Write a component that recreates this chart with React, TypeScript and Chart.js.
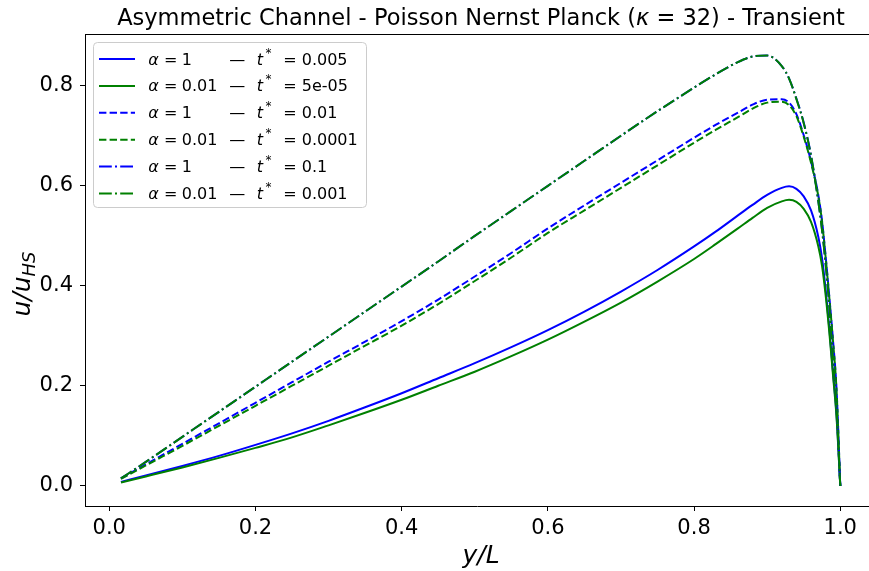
import React, { useEffect, useRef } from "react";
import { Chart, registerables } from "chart.js";

Chart.register(...registerables);

// y/L positions shared by all curves
const yOverL = [0.016, 0.05, 0.1, 0.15, 0.2, 0.25, 0.3, 0.35, 0.4, 0.45, 0.5, 0.55, 0.6, 0.65, 0.7, 0.75, 0.8, 0.83, 0.86, 0.88, 0.9, 0.92, 0.93, 0.94, 0.95, 0.96, 0.97, 0.975, 0.98, 0.985, 0.99, 0.995, 1.0];

// alpha = 1, t* = 0.005 (solid blue)
const a1_t0005 = [0.008, 0.021, 0.040, 0.060, 0.082, 0.105, 0.130, 0.157, 0.185, 0.215, 0.245, 0.277, 0.311, 0.348, 0.388, 0.431, 0.478, 0.508, 0.540, 0.561, 0.581, 0.595, 0.598, 0.593, 0.578, 0.550, 0.497, 0.455, 0.392, 0.315, 0.228, 0.14, 0.0];
// alpha = 0.01, t* = 5e-05 (solid green)
const a001_t5e5 = [0.007, 0.019, 0.037, 0.056, 0.076, 0.097, 0.121, 0.146, 0.172, 0.200, 0.228, 0.259, 0.292, 0.328, 0.366, 0.408, 0.453, 0.483, 0.514, 0.535, 0.555, 0.568, 0.571, 0.567, 0.553, 0.527, 0.478, 0.440, 0.381, 0.307, 0.222, 0.135, 0.0];
// alpha = 1, t* = 0.01 (dashed blue)
const a1_t001 = [0.015, 0.043, 0.084, 0.125, 0.166, 0.207, 0.248, 0.288, 0.329, 0.372, 0.418, 0.465, 0.514, 0.560, 0.605, 0.650, 0.695, 0.721, 0.745, 0.761, 0.771, 0.772, 0.765, 0.742, 0.700, 0.648, 0.580, 0.530, 0.458, 0.378, 0.292, 0.19, 0.0];
// alpha = 0.01, t* = 0.0001 (dashed green)
const a001_t00001 = [0.014, 0.041, 0.080, 0.120, 0.160, 0.200, 0.240, 0.280, 0.320, 0.363, 0.409, 0.456, 0.505, 0.550, 0.595, 0.640, 0.685, 0.711, 0.736, 0.753, 0.765, 0.767, 0.760, 0.738, 0.697, 0.645, 0.578, 0.528, 0.456, 0.376, 0.290, 0.188, 0.0];
// alpha = 1, t* = 0.1 (dash-dot blue)
const a1_t01 = [0.015, 0.048, 0.098, 0.148, 0.198, 0.248, 0.298, 0.348, 0.398, 0.448, 0.499, 0.549, 0.599, 0.649, 0.699, 0.748, 0.795, 0.822, 0.846, 0.857, 0.859, 0.838, 0.813, 0.773, 0.725, 0.660, 0.568, 0.512, 0.443, 0.360, 0.255, 0.155, 0.0];
// alpha = 0.01, t* = 0.001 (dash-dot green)
const a001_t0001 = [0.015, 0.048, 0.098, 0.148, 0.198, 0.248, 0.298, 0.348, 0.398, 0.448, 0.499, 0.549, 0.599, 0.649, 0.699, 0.748, 0.795, 0.822, 0.846, 0.857, 0.859, 0.838, 0.813, 0.772, 0.724, 0.659, 0.567, 0.511, 0.442, 0.359, 0.254, 0.154, 0.0];

const alphaLabels = ["1", "0.01", "1", "0.01", "1", "0.01"];
const tLabels = ["0.005", "5e-05", "0.01", "0.0001", "0.1", "0.001"];
const seriesValues = [a1_t0005, a001_t5e5, a1_t001, a001_t00001, a1_t01, a001_t0001];
const seriesColors = ["#0000ff", "#008000", "#0000ff", "#008000", "#0000ff", "#008000"];
const seriesDashes = [[], [], [7.4, 3.2], [7.4, 3.2], [12.8, 3.2, 2, 3.2], [12.8, 3.2, 2, 3.2]];

const xTicks = [0, 0.2, 0.4, 0.6, 0.8, 1.0];
const yTicks = [0, 0.2, 0.4, 0.6, 0.8];

const FONT = "'DejaVu Sans', sans-serif";

type Run = { text: string; font: string; dy?: number };

function runsWidth(ctx: CanvasRenderingContext2D, runs: Run[]) {
  let w = 0;
  for (const r of runs) {
    ctx.font = r.font;
    w += ctx.measureText(r.text).width;
  }
  return w;
}

function drawRuns(ctx: CanvasRenderingContext2D, runs: Run[], x: number, y: number) {
  let cx = x;
  for (const r of runs) {
    ctx.font = r.font;
    ctx.fillText(r.text, cx, y + (r.dy || 0));
    cx += ctx.measureText(r.text).width;
  }
}

const overlay = {
  id: "overlay",
  afterDraw(chart: any) {
    const ctx: CanvasRenderingContext2D = chart.ctx;
    const a = chart.chartArea;
    ctx.save();
    // top spine
    ctx.strokeStyle = "#000";
    ctx.lineWidth = 1;
    ctx.beginPath();
    ctx.moveTo(a.left, Math.round(a.top) + 0.5);
    ctx.lineTo(chart.width, Math.round(a.top) + 0.5);
    ctx.stroke();

    ctx.fillStyle = "#000";
    ctx.textBaseline = "alphabetic";
    ctx.textAlign = "left";

    // title
    const tf = `22.5px ${FONT}`;
    const titleRuns: Run[] = [
      { text: "Asymmetric Channel - Poisson Nernst Planck (", font: tf },
      { text: "κ", font: `italic ${tf}` },
      { text: " = 32) - Transient", font: tf },
    ];
    const tw = runsWidth(ctx, titleRuns);
    drawRuns(ctx, titleRuns, 481 - tw / 2, 25);

    // x label
    const xf = `italic 25px ${FONT}`;
    const xr: Run[] = [{ text: "y/L", font: xf }];
    const xw = runsWidth(ctx, xr);
    drawRuns(ctx, xr, 481 - xw / 2, 563);

    // y label
    const yr: Run[] = [
      { text: "u/u", font: `italic 25px ${FONT}` },
      { text: "HS", font: `italic 18px ${FONT}`, dy: 5 },
    ];
    const yw = runsWidth(ctx, yr);
    ctx.save();
    ctx.translate(30, 284 + yw / 2);
    ctx.rotate(-Math.PI / 2);
    drawRuns(ctx, yr, 0, 0);
    ctx.restore();

    // legend
    ctx.beginPath();
    (ctx as any).roundRect(93.5, 42.5, 273, 165, 4);
    ctx.fillStyle = "rgba(255,255,255,0.8)";
    ctx.fill();
    ctx.strokeStyle = "#cccccc";
    ctx.lineWidth = 1;
    ctx.stroke();

    const lf = `16px ${FONT}`;
    const lfi = `italic 16px ${FONT}`;
    for (let i = 0; i < 6; i++) {
      const cy = 59 + i * 26.9;
      ctx.save();
      ctx.strokeStyle = seriesColors[i];
      ctx.lineWidth = 2;
      ctx.setLineDash(seriesDashes[i]);
      ctx.beginPath();
      ctx.moveTo(99, cy);
      ctx.lineTo(135, cy);
      ctx.stroke();
      ctx.restore();
      const by = cy + 5.5;
      ctx.fillStyle = "#000";
      ctx.font = lfi;
      ctx.fillText("α", 148.3, by);
      ctx.font = lf;
      ctx.fillText("=", 164, by);
      ctx.fillText(alphaLabels[i], 181.7, by);
      ctx.fillText("—", 229.3, by);
      ctx.font = lfi;
      ctx.fillText("t", 256.7, by);
      ctx.font = `12px ${FONT}`;
      ctx.fillText("*", 265.5, by - 8);
      ctx.font = lf;
      ctx.fillText("=", 283.3, by);
      ctx.fillText(tLabels[i], 301.7, by);
    }
    ctx.restore();
  },
};

export default function App() {
  const ref = useRef<HTMLCanvasElement | null>(null);
  useEffect(() => {
    if (!ref.current) return;
    const datasets = seriesValues.map((vals, i) => ({
      label: `α = ${alphaLabels[i]} — t* = ${tLabels[i]}`,
      data: yOverL.map((x, j) => ({ x, y: vals[j] })),
      borderColor: seriesColors[i],
      backgroundColor: seriesColors[i],
      borderWidth: 2,
      borderDash: seriesDashes[i],
      pointRadius: 0,
      fill: false,
      cubicInterpolationMode: "monotone" as const,
      order: 5 - i,
    }));
    const tickFont = { family: FONT, size: 21 };
    const chart = new Chart(ref.current, {
      type: "line",
      data: { datasets },
      options: {
        animation: false,
        responsive: false,
        maintainAspectRatio: false,
        layout: { padding: { top: 34, right: 0, left: 0, bottom: 0 } },
        plugins: { legend: { display: false }, tooltip: { enabled: false }, title: { display: false } },
        scales: {
          x: {
            type: "linear",
            min: -0.0332,
            max: 1.0393,
            afterBuildTicks: (s: any) => { s.ticks = xTicks.map((v) => ({ value: v })); },
            afterFit: (s: any) => { s.height = 65; },
            ticks: {
              font: tickFont,
              color: "#000",
              padding: 5,
              maxRotation: 0,
              autoSkip: false,
              callback: (v: any) => Number(v).toFixed(1),
            },
            grid: { drawOnChartArea: false, drawTicks: true, tickLength: 5, tickColor: "#000", color: "#000" },
            border: { display: true, color: "#000", width: 1 },
          },
          y: {
            type: "linear",
            min: -0.040,
            max: 0.902,
            afterBuildTicks: (s: any) => { s.ticks = yTicks.map((v) => ({ value: v })); },
            afterFit: (s: any) => { s.width = 85; },
            ticks: {
              font: tickFont,
              color: "#000",
              padding: 7,
              autoSkip: false,
              callback: (v: any) => Number(v).toFixed(1),
            },
            grid: { drawOnChartArea: false, drawTicks: true, tickLength: 5, tickColor: "#000", color: "#000" },
            border: { display: true, color: "#000", width: 1 },
          },
        },
      },
      plugins: [overlay],
    });
    return () => chart.destroy();
  }, []);
  return (
    <div style={{ position: "fixed", left: 0, top: 0, width: 869, height: 571, background: "#fff", overflow: "hidden" }}>
      <canvas ref={ref} width={869} height={571} style={{ display: "block" }} />
    </div>
  );
}
